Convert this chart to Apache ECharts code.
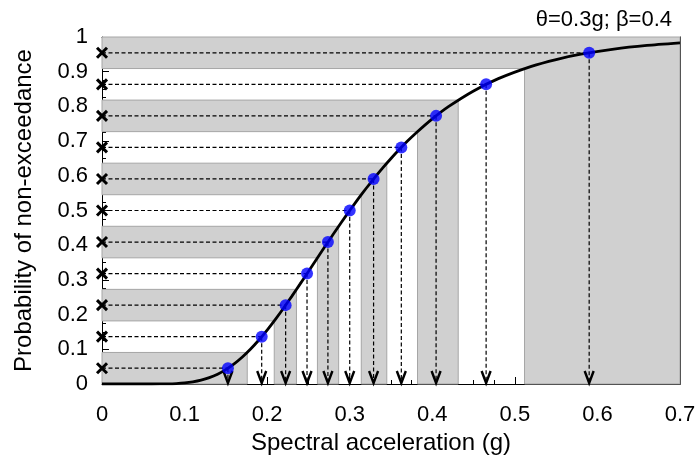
<!DOCTYPE html>
<html>
<head>
<meta charset="utf-8">
<script src="https://cdn.jsdelivr.net/npm/echarts@6/dist/echarts.min.js"></script>
<style>html,body{margin:0;padding:0;background:#fff}#c{width:697px;height:455px}</style>
</head>
<body>
<div id="c"></div>
<script>
// ---- data ----
const titleText = 'θ=0.3g; β=0.4';
const xTickLabels = ['0','0.1','0.2','0.3','0.4','0.5','0.6','0.7'];
const yTickLabels = ['0','0.1','0.2','0.3','0.4','0.5','0.6','0.7','0.8','0.9','1'];
// fragility curve (spectral acceleration vs probability)
const curveX = [0,0.04,0.06,0.08,0.09,0.10,0.11,0.12,0.13,0.14,0.15,0.16,0.17,0.18,0.19,0.20,0.21,0.22,0.23,0.24,0.25,0.26,0.27,0.28,0.29,0.30,0.31,0.32,0.33,0.34,0.35,0.36,0.37,0.38,0.40,0.42,0.45,0.48,0.52,0.55,0.58,0.62,0.66,0.70];
const curveY = [0,0,0,0.0005,0.0013,0.0030,0.0061,0.0110,0.0183,0.0284,0.0416,0.058,0.0778,0.1008,0.1267,0.1554,0.1863,0.219,0.2533,0.2885,0.3243,0.3603,0.3961,0.4315,0.4662,0.5,0.5327,0.5641,0.5942,0.6229,0.65,0.6757,0.70,0.7227,0.764,0.7999,0.8446,0.88,0.9154,0.9351,0.9503,0.9652,0.9756,0.9829];
// sample points
const sampleP = [0.0455,0.1364,0.2273,0.3182,0.4091,0.5,0.5909,0.6818,0.7727,0.8636,0.9545];
const sampleX = [0.1525,0.1934,0.2224,0.2483,0.2736,0.3,0.3289,0.3625,0.4046,0.4652,0.590];
// strata boundaries
const stratumP = [0,0.0909,0.1818,0.2727,0.3636,0.4545,0.5455,0.6364,0.7273,0.8182,0.9091,1];
const stratumX = [0,0.1759,0.2086,0.2355,0.2609,0.2866,0.3140,0.3449,0.3821,0.4314,0.5117,0.7];
const grayStrata = [0,2,4,6,8,10];

const FONT = '"Liberation Sans", Arial, sans-serif';
const chart = echarts.init(document.getElementById('c'), null, {renderer:'canvas'});

function baseX(extra){
  return Object.assign({
    type:'value', min:0, max:0.7, interval:0.1,
    axisLine:{show:true, onZero:false, lineStyle:{color:'#000', width:1}},
    axisTick:{show:true, inside:true, length:7, lineStyle:{color:'#000'}},
    minorTick:{show:true, splitNumber:4, length:4, lineStyle:{color:'#000'}},
    splitLine:{show:false}
  }, extra);
}
function baseY(extra){
  return Object.assign({
    type:'value', min:0, max:1, interval:0.1,
    axisLine:{show:true, onZero:false, lineStyle:{color:'#000', width:1}},
    axisTick:{show:true, inside:true, length:7, lineStyle:{color:'#000'}},
    minorTick:{show:true, splitNumber:4, length:4, lineStyle:{color:'#000'}},
    splitLine:{show:false}
  }, extra);
}

const option = {
  animation:false,
  backgroundColor:'#fff',
  textStyle:{fontFamily:FONT},
  title:{text:titleText, right:20, top:4, textStyle:{fontFamily:FONT, fontSize:22, fontWeight:'normal', color:'#000'}},
  grid:{left:102, right:17, top:37, bottom:71, containLabel:false, outerBoundsMode:'none'},
  xAxis:[
    baseX({position:'bottom',
      axisLabel:{show:true, fontSize:22, color:'#000', fontFamily:FONT, margin:20,
        formatter:(v)=>xTickLabels[Math.round(v*10)]},
      name:'Spectral acceleration (g)', nameLocation:'middle', nameGap:46,
      nameTextStyle:{fontSize:24, color:'#000', fontFamily:FONT, padding:[0,20,0,0]}}),
    baseX({position:'top', axisLabel:{show:false}})
  ],
  yAxis:[
    baseY({position:'left',
      axisLabel:{show:true, fontSize:22, color:'#000', fontFamily:FONT, margin:14,
        formatter:(v)=>yTickLabels[Math.round(v*10)]},
      name:'Probability of non-exceedance', nameLocation:'middle', nameGap:66,
      nameTextStyle:{fontSize:24, color:'#000', fontFamily:FONT}}),
    baseY({position:'right', axisLabel:{show:false}})
  ],
  series:[
    {
      type:'custom', name:'strata', z:2,
      xAxisIndex:0, yAxisIndex:0,
      data: grayStrata.map(k=>[k]),
      renderItem:(params, api)=>{
        const k = api.value(0);
        const p0 = stratumP[k], p1 = stratumP[k+1];
        const x0 = stratumX[k], x1 = stratumX[k+1];
        const pts = [[0,p0],[x0,p0],[x0,0],[x1,0],[x1,p1],[0,p1]].map(d=>api.coord(d));
        return {type:'polygon', shape:{points:pts},
          style:{fill:'#d0d0d0', stroke:'#a6a6a6', lineWidth:1}};
      },
      clip:false, silent:true
    },
    {
      type:'custom', name:'guides', z:3,
      xAxisIndex:0, yAxisIndex:0,
      data: sampleP.map((p,i)=>[sampleX[i], p]),
      renderItem:(params, api)=>{
        const x = api.value(0), p = api.value(1);
        const pt = api.coord([x,p]);
        const o = api.coord([0,p]);
        const b = api.coord([x,0]);
        const dash = {stroke:'#000', lineWidth:1.2, lineDash:[4,2.5], fill:null};
        const solid = {stroke:'#000', lineWidth:2.4, fill:null};
        const c = 5;
        return {type:'group', children:[
          {type:'line', shape:{x1:o[0], y1:o[1], x2:pt[0], y2:pt[1]}, style:dash},
          {type:'line', shape:{x1:pt[0], y1:pt[1], x2:b[0], y2:b[1]}, style:dash},
          {type:'polyline', shape:{points:[[b[0]-4.5,b[1]-13],[b[0],b[1]-1],[b[0]+4.5,b[1]-13]]}, style:solid},
          {type:'line', shape:{x1:o[0]-c, y1:o[1]-c, x2:o[0]+c, y2:o[1]+c}, style:{stroke:'#000', lineWidth:3}},
          {type:'line', shape:{x1:o[0]-c, y1:o[1]+c, x2:o[0]+c, y2:o[1]-c}, style:{stroke:'#000', lineWidth:3}}
        ]};
      },
      clip:false, silent:true
    },
    {
      type:'line', name:'curve', z:4,
      data: curveX.map((x,i)=>[x, curveY[i]]),
      showSymbol:false, symbol:'none', smooth:0.2,
      lineStyle:{color:'#000', width:2.8}, clip:true
    },
    {
      type:'scatter', name:'samples', z:5,
      data: sampleP.map((p,i)=>[sampleX[i], p]),
      symbol:'circle', symbolSize:12,
      itemStyle:{color:'#0000ff'}
    }
  ]
};
chart.setOption(option);
</script>
</body>
</html>
